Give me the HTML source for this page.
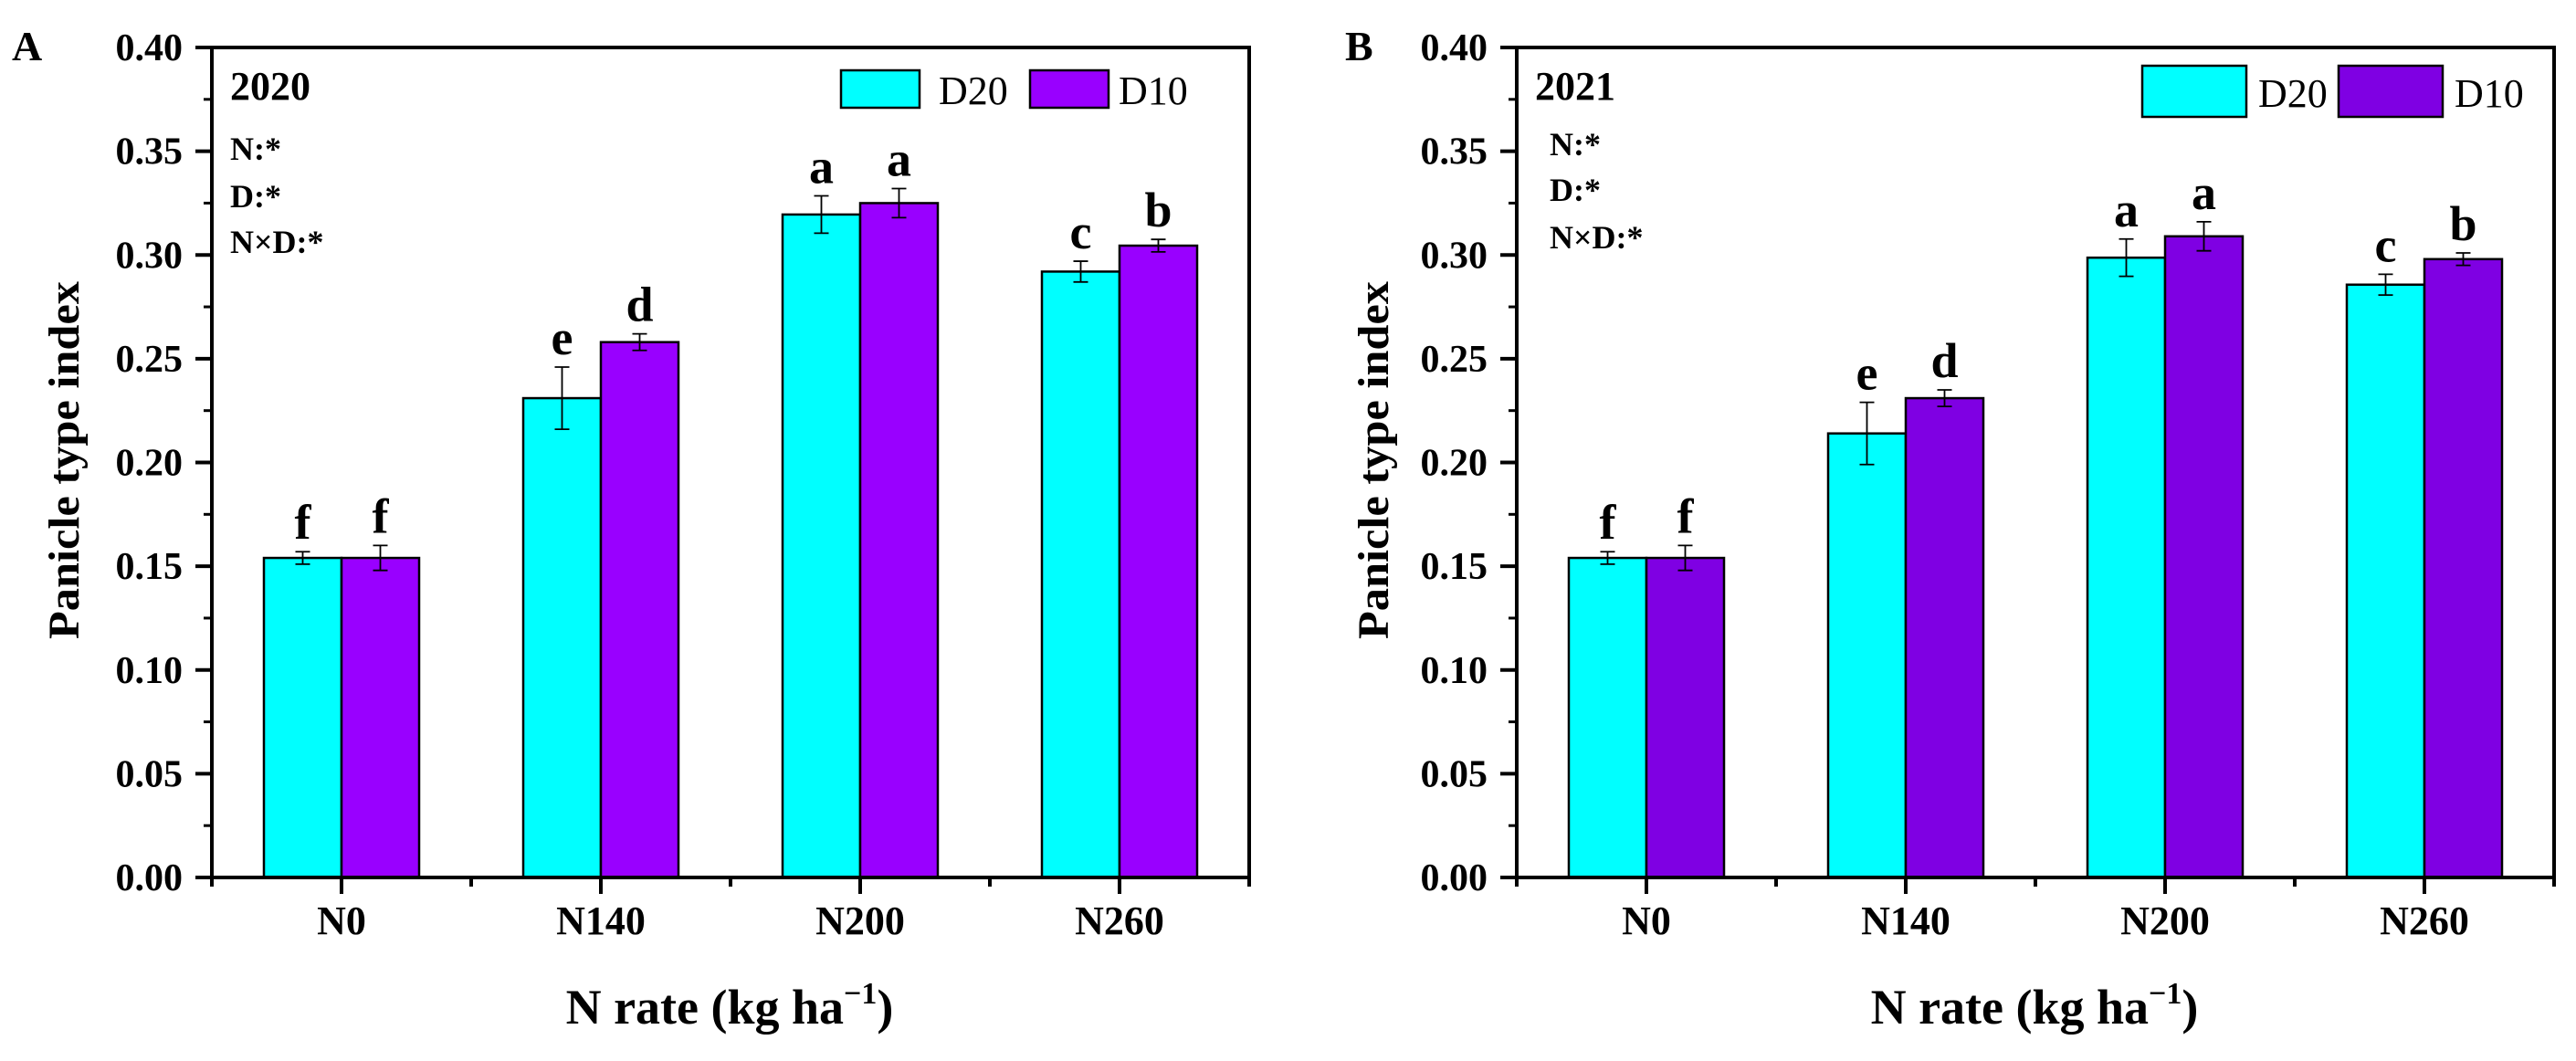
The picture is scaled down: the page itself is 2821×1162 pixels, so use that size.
<!DOCTYPE html>
<html><head><meta charset="utf-8"><style>
html,body{margin:0;padding:0;background:#fff;}
svg{display:block;}
text{font-family:"Liberation Serif",serif;fill:#000;}
</style></head><body>
<svg id="chart" width="2821" height="1162" viewBox="0 0 2821 1162" xmlns="http://www.w3.org/2000/svg"></svg>
<script>
const categories = ["N0","N140","N200","N260"];
const yTicks = [0,0.05,0.10,0.15,0.20,0.25,0.30,0.35,0.40];
const yTickLabels = ["0.00","0.05","0.10","0.15","0.20","0.25","0.30","0.35","0.40"];
const a_d20 = [0.154,0.231,0.3195,0.292];
const a_d20_err = [0.003,0.015,0.009,0.005];
const a_d10 = [0.154,0.258,0.325,0.3045];
const a_d10_err = [0.006,0.004,0.007,0.003];
const a_d20_letters = ["f","e","a","c"];
const a_d10_letters = ["f","d","a","b"];
const b_d20 = [0.154,0.214,0.2987,0.2857];
const b_d20_err = [0.003,0.015,0.009,0.005];
const b_d10 = [0.154,0.231,0.309,0.298];
const b_d10_err = [0.006,0.004,0.007,0.003];
const b_d20_letters = ["f","e","a","c"];
const b_d10_letters = ["f","d","a","b"];

const NS="http://www.w3.org/2000/svg";
const svg=document.getElementById('chart');
function mk(tag,attrs,parent){const e=document.createElementNS(NS,tag);for(const k in attrs)e.setAttribute(k,attrs[k]);(parent||svg).appendChild(e);return e;}

function panel(cfg){
  const g=mk('g',{});
  
  
  const L=cfg.left,R=cfg.left+1136,T=52,B=961;
  const y=v=>B-(v/0.40)*(B-T);
  const cw=(R-L)/categories.length;
  const cx=i=>L+cw*(i+0.5);
  const bw=85;
  const pl=mk('text',{x:cfg.labelX,y:66,'font-size':46,'font-weight':'bold'},g);pl.textContent=cfg.id;
  
  
  yTicks.forEach((t,i)=>{
    const yy=y(t);
    const tk=mk('line',{x1:L-18,x2:L,y1:yy,y2:yy,stroke:'#000','stroke-width':4},g);
    
    
    const lb=mk('text',{x:L-32,y:yy+14,'font-size':42,'font-weight':'bold','text-anchor':'end'},g);
    lb.textContent=yTickLabels[i];
    
    
    if(i<yTicks.length-1){const ym=y(t+0.025);
      const mt=mk('line',{x1:L-9,x2:L,y1:ym,y2:ym,stroke:'#000','stroke-width':3},g);
      
      }
  });
  for(let i=0;i<=categories.length;i++){
    const xx=L+cw*i;
    const t=mk('line',{x1:xx,x2:xx,y1:B,y2:B+10,stroke:'#000','stroke-width':4},g);
    
    
  }
  categories.forEach((c,i)=>{
    const t=mk('line',{x1:cx(i),x2:cx(i),y1:B,y2:B+18,stroke:'#000','stroke-width':4},g);
    
    
    const lb=mk('text',{x:cx(i),y:1023,'font-size':44,'font-weight':'bold','text-anchor':'middle'},g);
    lb.textContent=c;
    
    
  });
  function series(vals,errs,letters,color,off,name){
    vals.forEach((v,i)=>{
      const x0=cx(i)+off*bw;
      const r=mk('rect',{x:x0,y:y(v),width:bw,height:B-y(v),fill:color,stroke:'#000','stroke-width':2.5},g);
      
      
      const mx=x0+bw/2,top=y(v+errs[i]),bot=y(v-errs[i]);
      const eb=mk('path',{d:`M${mx},${top}V${bot}M${mx-8},${top}H${mx+8}M${mx-8},${bot}H${mx+8}`,stroke:'#000','stroke-width':1.8,fill:'none'},g);
      
      
      const lt=mk('text',{x:mx,y:top-14,'font-size':54,'font-weight':'bold','text-anchor':'middle'},g);
      lt.textContent=letters[i];
      
      
    });
  }
  series(cfg.d20,cfg.d20e,cfg.d20l,'#00ffff',-1,'d20');
  series(cfg.d10,cfg.d10e,cfg.d10l,cfg.purple,0,'d10');
  const fr=mk('rect',{x:L,y:T,width:R-L,height:B-T,fill:'none',stroke:'#000','stroke-width':4},g);
  
  
  const yr=mk('text',{x:L+20,y:109,'font-size':44,'font-weight':'bold'},g);yr.textContent=cfg.year;
  
  
  ["N:*","D:*","N×D:*"].forEach((s,i)=>{
    const t=mk('text',{x:L+cfg.statDx,y:cfg.statY[i],'font-size':36,'font-weight':'bold'},g);t.textContent=s;
    
    
  });
  const lg=cfg.legend;
  const b1=mk('rect',{x:lg.x1,y:lg.y,width:lg.w,height:lg.h,fill:'#00ffff',stroke:'#000','stroke-width':2.5},g);
  
  
  const t1=mk('text',{x:lg.t1,y:lg.base,'font-size':44},g);t1.textContent='D20';
  
  
  const b2=mk('rect',{x:lg.x2,y:lg.y,width:lg.w,height:lg.h,fill:cfg.purple,stroke:'#000','stroke-width':2.5},g);
  
  
  const t2=mk('text',{x:lg.t2,y:lg.base,'font-size':44},g);t2.textContent='D10';
  
  
  const yt=mk('text',{x:0,y:0,'font-size':48,'font-weight':'bold','text-anchor':'middle',transform:`translate(${cfg.yTitleX},504) rotate(-90)`,textLength:392,lengthAdjust:'spacingAndGlyphs'},g);
  yt.textContent='Panicle type index';
  
  
  const xt=mk('text',{x:cfg.xTitleX,y:1121,'font-size':54,'font-weight':'bold','text-anchor':'middle'},g);
  
  
  xt.appendChild(document.createTextNode('N rate (kg ha'));
  const sup=mk('tspan',{dy:-22,'font-size':34},xt);sup.textContent='−1';
  const cl=mk('tspan',{dy:22},xt);cl.textContent=')';
}

panel({id:'A',left:232,labelX:13,year:'2020',purple:'#9900ff',
  d20:a_d20,d20e:a_d20_err,d20l:a_d20_letters,d10:a_d10,d10e:a_d10_err,d10l:a_d10_letters,
  statDx:20,statY:[175,227,277],
  legend:{x1:921,x2:1128,y:77,w:86,h:41,t1:1028,t2:1225,base:114},
  yTitleX:86,xTitleX:799});
panel({id:'B',left:1661,labelX:1473,year:'2021',purple:'#7f00e3',
  d20:b_d20,d20e:b_d20_err,d20l:b_d20_letters,d10:b_d10,d10e:b_d10_err,d10l:b_d10_letters,
  statDx:36,statY:[170,220,272],
  legend:{x1:2346,x2:2561,y:72,w:114,h:56,t1:2473,t2:2688,base:117},
  yTitleX:1520,xTitleX:2228});
</script>
</body></html>
